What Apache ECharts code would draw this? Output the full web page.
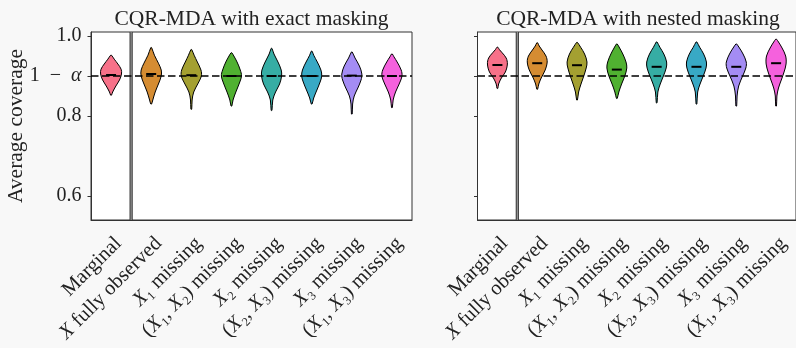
<!DOCTYPE html>
<html><head><meta charset="utf-8">
<script src="https://cdn.jsdelivr.net/npm/echarts@6/dist/echarts.min.js"></script>
<style>html,body{margin:0;padding:0;background:#f8f8f8;}#c{width:796px;height:348px;}</style>
</head><body><div id="c"></div>
<script>
const categories = ['Marginal', 'X fully observed', 'X₁ missing', '(X₁, X₂) missing', 'X₂ missing', '(X₂, X₃) missing', 'X₃ missing', '(X₁, X₃) missing'];
const panelTitles = ['CQR-MDA with exact masking', 'CQR-MDA with nested masking'];
const yTickValues = [0.6, 0.8, 0.9, 1.0];
const targetCoverage = 0.9;
const colors = ['#f77189', '#d58c32', '#a4a031', '#50b131', '#36ada4', '#38a9c5', '#a48cf4', '#f561dd'];
const exactMedians = [0.9025, 0.905, 0.902, 0.9, 0.9, 0.9, 0.901, 0.9];
const nestedMedians = [0.9275, 0.932, 0.927, 0.916, 0.923, 0.923, 0.923, 0.932];
// violin outlines: [coverage, relative half width]
const exactProfiles = [
  [[0.852,0.01],[0.86,0.04],[0.875,0.12],[0.89,0.21],[0.905,0.26],[0.917,0.25],[0.93,0.17],[0.942,0.08],[0.952,0.01]],
  [[0.83,0.01],[0.84,0.04],[0.86,0.1],[0.88,0.18],[0.9,0.25],[0.915,0.25],[0.932,0.18],[0.952,0.08],[0.971,0.01]],
  [[0.817,0.01],[0.84,0.02],[0.86,0.06],[0.88,0.16],[0.9,0.25],[0.915,0.24],[0.935,0.15],[0.952,0.07],[0.966,0.01]],
  [[0.825,0.01],[0.84,0.04],[0.86,0.11],[0.88,0.19],[0.9,0.25],[0.915,0.22],[0.935,0.14],[0.95,0.06],[0.958,0.01]],
  [[0.814,0.01],[0.84,0.03],[0.86,0.1],[0.88,0.2],[0.9,0.25],[0.915,0.24],[0.935,0.16],[0.955,0.06],[0.969,0.01]],
  [[0.83,0.01],[0.845,0.05],[0.865,0.13],[0.885,0.21],[0.9,0.25],[0.915,0.23],[0.935,0.14],[0.952,0.05],[0.962,0.01]],
  [[0.805,0.01],[0.83,0.02],[0.85,0.06],[0.87,0.15],[0.89,0.23],[0.905,0.25],[0.925,0.19],[0.945,0.08],[0.96,0.01]],
  [[0.821,0.01],[0.84,0.03],[0.86,0.09],[0.88,0.18],[0.9,0.25],[0.915,0.23],[0.935,0.13],[0.948,0.05],[0.955,0.01]]
];
const nestedProfiles = [
  [[0.869,0.01],[0.88,0.03],[0.895,0.1],[0.91,0.2],[0.93,0.25],[0.945,0.22],[0.958,0.12],[0.966,0.05],[0.972,0.01]],
  [[0.867,0.01],[0.88,0.04],[0.895,0.1],[0.915,0.2],[0.935,0.25],[0.95,0.22],[0.965,0.12],[0.975,0.05],[0.983,0.01]],
  [[0.84,0.01],[0.86,0.04],[0.88,0.1],[0.9,0.17],[0.92,0.23],[0.935,0.25],[0.955,0.19],[0.972,0.09],[0.984,0.01]],
  [[0.844,0.01],[0.86,0.05],[0.88,0.12],[0.9,0.2],[0.92,0.25],[0.935,0.23],[0.955,0.15],[0.97,0.07],[0.98,0.01]],
  [[0.833,0.01],[0.86,0.03],[0.88,0.09],[0.9,0.17],[0.92,0.24],[0.935,0.25],[0.955,0.18],[0.972,0.08],[0.985,0.01]],
  [[0.83,0.01],[0.86,0.03],[0.88,0.09],[0.9,0.17],[0.92,0.24],[0.935,0.25],[0.955,0.18],[0.972,0.08],[0.985,0.01]],
  [[0.825,0.01],[0.85,0.02],[0.875,0.06],[0.9,0.16],[0.92,0.24],[0.935,0.25],[0.955,0.17],[0.97,0.08],[0.98,0.01]],
  [[0.825,0.01],[0.85,0.02],[0.87,0.06],[0.89,0.13],[0.91,0.2],[0.93,0.25],[0.95,0.24],[0.97,0.15],[0.985,0.06],[0.992,0.01]]
];

const FONT = 'Liberation Serif';
const TXT = '#222';

function makeRender(profiles) {
  return function (params, api) {
    const idx = api.value(0);
    const med = api.value(1);
    const prof = profiles[idx];
    const bw = api.size([1, 0])[0];
    const left = [], right = [];
    prof.forEach(function (p) {
      const c = api.coord([idx, p[0]]);
      left.push([c[0] - p[1] * bw, c[1]]);
      right.push([c[0] + p[1] * bw, c[1]]);
    });
    const pts = left.concat(right.reverse());
    const mc = api.coord([idx, med]);
    const children = [
      { type: 'polygon', shape: { points: pts, smooth: 0.35 },
        style: { fill: colors[idx], stroke: '#000', lineWidth: 1 } },
      { type: 'line', shape: { x1: mc[0] - 5, y1: mc[1], x2: mc[0] + 5, y2: mc[1] },
        style: { stroke: '#000', lineWidth: 2 } }
    ];
    if (idx === 0) {
      const cs = params.coordSys;
      const sx = mc[0] + bw / 2;
      children.push({ type: 'line', shape: { x1: sx, y1: cs.y, x2: sx, y2: cs.y + cs.height },
        style: { stroke: '#333', lineWidth: 3.2 }, z2: 20 });
      children.push({ type: 'line', shape: { x1: sx, y1: cs.y, x2: sx, y2: cs.y + cs.height },
        style: { stroke: '#9a9a9a', lineWidth: 1.2 }, z2: 21 });
    }
    return { type: 'group', children: children };
  };
}

const grids = [
  { left: 91, top: 32, width: 321, height: 188 },
  { left: 477.5, top: 32, width: 321, height: 188 }
];
const option = {
  backgroundColor: '#f8f8f8',
  animation: false,
  title: panelTitles.map(function (t, i) {
    return { text: t, left: grids[i].left + grids[i].width / 2, top: 8, textAlign: 'center', padding: 0,
      textStyle: { fontFamily: FONT, fontSize: 21.5, fontWeight: 'normal', color: TXT } };
  }),
  grid: grids.map(function (g) {
    return Object.assign({ show: true, backgroundColor: '#fff', borderColor: '#333', borderWidth: 1 }, g);
  }),
  xAxis: [0, 1].map(function (i) {
    return {
      type: 'category', gridIndex: i, data: categories,
      axisLine: { lineStyle: { color: '#333', width: 1 } },
      axisTick: { alignWithLabel: true, length: 3.5, lineStyle: { color: '#333' } },
      axisLabel: {
        rotate: 45, margin: 13, interval: 0, color: TXT, fontFamily: FONT, fontSize: 20.5,
        verticalAlign: 'top',
        formatter: function (v) { return v.replace(/X/g, '{i|X}'); },
        rich: { i: { fontStyle: 'italic', fontFamily: FONT, fontSize: 20.5, color: TXT } }
      },
      splitLine: { show: false }
    };
  }),
  yAxis: [0, 1].map(function (i) {
    return {
      type: 'value', gridIndex: i, min: 0.54, max: 1.01,
      name: i === 0 ? 'Average coverage' : '', nameLocation: 'middle', nameGap: 64, nameMoveOverlap: false,
      nameTextStyle: { fontFamily: FONT, fontSize: 21.5, color: TXT },
      axisLine: { show: true, lineStyle: { color: '#333', width: 1 } },
      axisTick: { show: true, length: 3.5, customValues: yTickValues, lineStyle: { color: '#333' } },
      axisLabel: {
        show: i === 0, customValues: yTickValues, margin: 9.5, color: TXT, fontFamily: FONT, fontSize: 20,
        formatter: function (v) { return Math.abs(v - targetCoverage) < 1e-9 ? '1\u2002\u2212\u2002{a|\u03b1}' : v.toFixed(1); },
        rich: { a: { fontStyle: 'italic', fontFamily: FONT, fontSize: 20, color: TXT } }
      },
      splitLine: { show: false }
    };
  }),
  series: [
    { type: 'custom', xAxisIndex: 0, yAxisIndex: 0, renderItem: makeRender(exactProfiles),
      data: exactMedians.map(function (m, k) { return [k, m]; }), z: 2 },
    { type: 'custom', xAxisIndex: 1, yAxisIndex: 1, renderItem: makeRender(nestedProfiles),
      data: nestedMedians.map(function (m, k) { return [k, m]; }), z: 2 },
    { type: 'line', xAxisIndex: 0, yAxisIndex: 0, data: [], z: 5,
      markLine: { silent: true, symbol: 'none', label: { show: false },
        lineStyle: { type: [7.5, 3.5], color: '#000', width: 1.7 }, data: [{ yAxis: targetCoverage }] } },
    { type: 'line', xAxisIndex: 1, yAxisIndex: 1, data: [], z: 5,
      markLine: { silent: true, symbol: 'none', label: { show: false },
        lineStyle: { type: [7.5, 3.5], color: '#000', width: 1.7 }, data: [{ yAxis: targetCoverage }] } }
  ]
};
const chart = echarts.init(document.getElementById('c'), null, { renderer: 'canvas' });
chart.setOption(option);
</script></body></html>
